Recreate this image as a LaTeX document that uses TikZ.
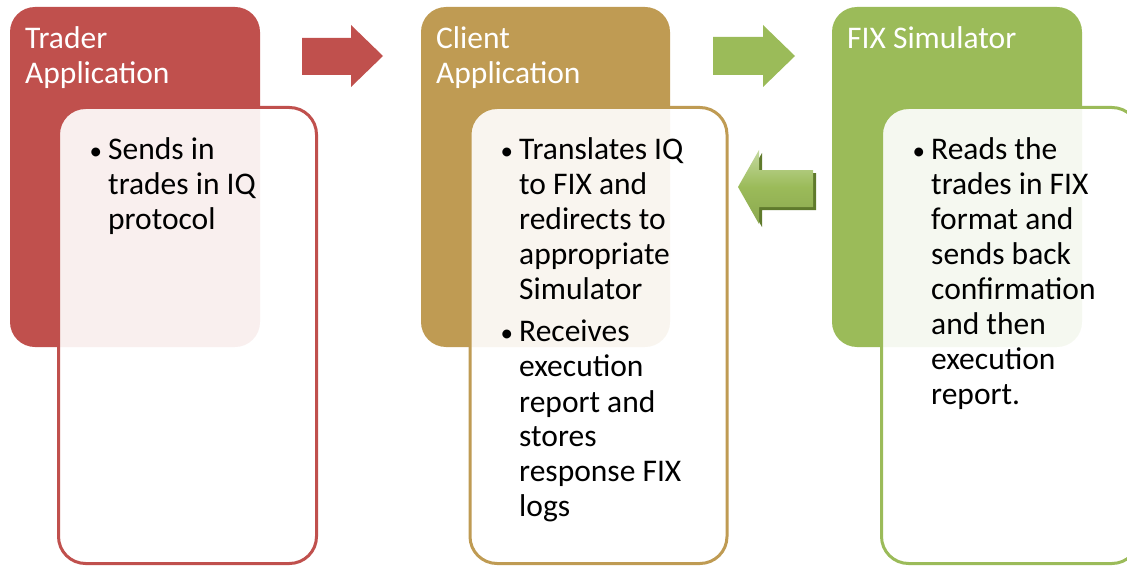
\documentclass[tikz,border=0pt]{standalone}
\usepackage{fontspec}
\setmainfont{Carlito}
\definecolor{cred}{HTML}{C0504D}
\definecolor{ctan}{HTML}{BF9B53}
\definecolor{cgreen}{HTML}{9BBB59}
\definecolor{cdkgreen}{HTML}{5F7A2C}
\definecolor{clgreen}{HTML}{C4D9A0}
\newcommand\txtfont{\fontsize{31.5}{35}\selectfont}
\newcommand\bulmark{\makebox[19.5pt][l]{\hspace{1pt}\raisebox{0.8pt}{\fontsize{25}{25}\selectfont •}}}
\newcommand\bul[1]{\noindent\hangindent=19.5pt\hangafter=1\bulmark#1\par}
\tikzset{
  colbox/.style={rounded corners=25pt},
  whitebox/.style={rounded corners=27pt, line width=3pt, fill=white, fill opacity=0.91, draw opacity=1},
  title/.style={anchor=base west, inner sep=0pt, text=white, font=\txtfont},
  body/.style={anchor=base west, inner sep=0pt, text=black, font=\txtfont},
}
\begin{document}
\begin{tikzpicture}[x=1pt,y=-1pt]
\useasboundingbox (0,0) rectangle (1127,567);
\clip (0,0) rectangle (1127,567);
% Trader
\fill[colbox, cred] (10,7) rectangle (260,347);
\draw[whitebox, draw=cred] (58.5,107.5) rectangle (316.5,563.5);
\node[title] (t1) at (25,49) {\parbox[t]{230pt}{Trader\\Application}};
\node[body] (b1) at (88.5,160) {\parbox[t]{300pt}{\txtfont\bul{Sends in\\trades in IQ\\protocol}}};
% Client
\fill[colbox, ctan] (421,7) rectangle (670,347);
\draw[whitebox, draw=ctan] (470,107.5) rectangle (727,563.5);
\node[title] (t2) at (436,49) {\parbox[t]{230pt}{Client\\Application}};
\node[body] (b2) at (499.5,160) {\parbox[t]{300pt}{\txtfont\bul{Translates IQ\\to FIX and\\redirects to\\appropriate\\Simulator}\vspace{7pt}\bul{Receives\\execution\\report and\\stores\\response FIX\\logs}}};
% FIX
\fill[colbox, cgreen] (832,7) rectangle (1082,347);
\draw[whitebox, draw=cgreen] (881.5,107.5) rectangle (1139,563.5);
\node[title] (t3) at (847,49) {\parbox[t]{230pt}{FIX Simulator}};
\node[body] (b3) at (911.5,160) {\parbox[t]{300pt}{\txtfont\bul{Reads the\\trades in FIX\\format and\\sends back\\confirmation\\and then\\execution\\report.}}};
% arrows
\fill[cred] (302,38) -- (351,38) -- (351,25) -- (383,56) -- (351,87) -- (351,75) -- (302,75) -- cycle;
\fill[cgreen] (713,37) -- (763,37) -- (763,25) -- (795,56) -- (763,87) -- (763,75) -- (713,75) -- cycle;
\fill[cdkgreen] (816,173) -- (762,173) -- (762,153) -- (741,190) -- (762,227) -- (762,210) -- (816,210) -- cycle;
\shade[top color=clgreen, bottom color=cgreen!90!black, middle color=cgreen] (813,170) -- (759,170) -- (759,150) -- (738,187) -- (759,224) -- (759,207) -- (813,207) -- cycle;
\end{tikzpicture}
\end{document}
